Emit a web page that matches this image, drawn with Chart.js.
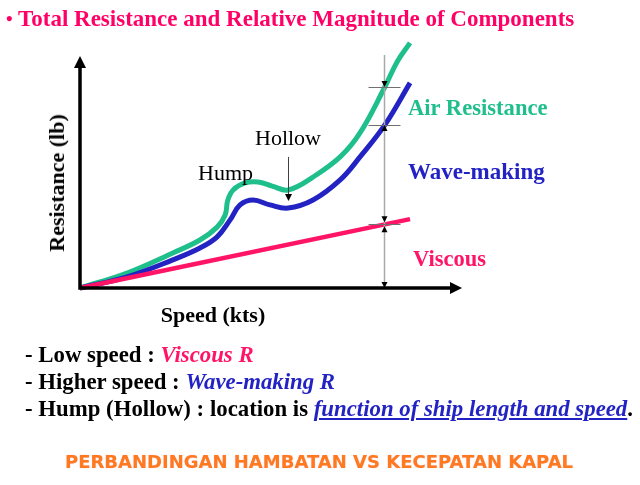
<!DOCTYPE html>
<html>
<head>
<meta charset="utf-8">
<script src="https://cdn.jsdelivr.net/npm/chart.js@4"></script>
<style>
  body { margin: 0; background: #fff; }
  #page { position: relative; width: 640px; height: 485px; overflow: hidden; font-family: "Liberation Serif", serif; }
  #wrap { position: absolute; left: 0; top: 0; width: 640px; height: 485px; }
  .t { position: absolute; white-space: nowrap; line-height: 1; }
  .b { font-weight: bold; }
</style>
</head>
<body>
<div id="page">
  <div id="wrap"><canvas id="resChart"></canvas></div>

  <div class="t b" style="left:6px; top:7px; font-size:23px; color:#ff0066;"><span style="font-size:19px; position:relative; top:-1px;">•</span> Total Resistance and Relative Magnitude of Components</div>

  <div class="t b" style="left:57px; top:183px; font-size:22px; transform:translate(-50%,-50%) rotate(-90deg);">Resistance (lb)</div>
  <div class="t b" style="left:213px; top:315px; font-size:22px; transform:translate(-50%,-50%);">Speed (kts)</div>

  <div class="t" style="left:198px; top:162px; font-size:22px;">Hump</div>
  <div class="t" style="left:255px; top:127px; font-size:22px;">Hollow</div>

  <div class="t b" style="left:408px; top:97px; font-size:22.6px; color:#1fbf8c;">Air Resistance</div>
  <div class="t b" style="left:408px; top:160px; font-size:23px; color:#2323c4;">Wave-making</div>
  <div class="t b" style="left:413px; top:248px; font-size:22.5px; color:#ff1466;">Viscous</div>

  <div class="t b" style="left:25px; top:344px; font-size:22.8px;">- Low speed : <i style="color:#ff1466;">Viscous R</i></div>
  <div class="t b" style="left:25px; top:371px; font-size:22.8px;">- Higher speed : <i style="color:#2323c4;">Wave-making R</i></div>
  <div class="t b" style="left:25px; top:398px; font-size:22.8px;">- Hump (Hollow) : location is <i style="color:#2323c4; text-decoration:underline;">function of ship length and speed</i>.</div>

  <div class="t" style="left:65px; top:453px; font-size:18px; font-family:'DejaVu Sans'; font-weight:bold; color:#ff7a1f; text-shadow:0 0 1px #ffb0c0;">PERBANDINGAN HAMBATAN VS KECEPATAN KAPAL</div>
</div>

<script>
// Total resistance (top green curve)
const totalSpeed = [0, 12.3, 24.3, 31.4, 35.9, 38.0, 38.7, 40.1, 43.2, 46.6, 50.3, 54.5, 61.0, 68.1, 73.3, 79.8, 83.0, 86.4];
const totalRes   = [0, 5.8, 13.6, 18.6, 23.6, 28.3, 34.1, 38.0, 40.7, 41.1, 39.5, 38.0, 43.0, 50.8, 60.1, 77.9, 87.6, 95.0];

// Viscous + wave-making (blue curve)
const waveSpeed = [0, 12.3, 24.3, 31.4, 35.9, 39.3, 41.9, 45.3, 49.7, 54.5, 61.0, 68.1, 73.3, 79.8, 86.4];
const waveRes   = [0, 4.3, 10.9, 15.5, 19.8, 26.4, 32.2, 34.1, 32.2, 31.0, 34.1, 41.9, 50.8, 63.2, 79.5];

// Viscous (red line)
const viscousSpeed = [0, 86.4];
const viscousRes   = [0, 26.7];

// measuring marker at the right
const markerSpeed = 79.7;
const markerTop = 90.3;
const markerLevels = [77.9, 63.2, 24.7];

// hollow pointer
const hollowSpeed = 54.4;
const hollowFrom = 50.8;
const hollowTo = 33.7;

const axisTopRes = 89.9;

function toPoints(xs, ys) {
    return xs.map((v, i) => ({ x: v, y: ys[i] }));
}

function head(ctx, x, y, dir, len, half) {
    ctx.beginPath();
    ctx.moveTo(x, y);
    if (dir === 'up') { ctx.lineTo(x - half, y + len); ctx.lineTo(x + half, y + len); }
    if (dir === 'down') { ctx.lineTo(x - half, y - len); ctx.lineTo(x + half, y - len); }
    if (dir === 'right') { ctx.lineTo(x - len, y - half); ctx.lineTo(x - len, y + half); }
    ctx.closePath();
    ctx.fill();
}

const sketchAxes = {
    id: 'sketchAxes',
    afterDatasetsDraw(chart) {
        const ctx = chart.ctx;
        const xs = chart.scales.x, ys = chart.scales.y;
        const px = v => xs.getPixelForValue(v);
        const py = v => ys.getPixelForValue(v);
        ctx.save();

        // marker line
        const mx = Math.round(px(markerSpeed)) + 0.5;
        ctx.strokeStyle = '#a8a8a8';
        ctx.lineWidth = 1.5;
        ctx.beginPath();
        ctx.moveTo(mx, py(markerTop));
        ctx.lineTo(mx, py(0));
        ctx.stroke();
        ctx.strokeStyle = '#707070';
        ctx.lineWidth = 1;
        markerLevels.forEach(v => {
            const yy = Math.round(py(v)) + 0.5;
            ctx.beginPath();
            ctx.moveTo(mx - 16, yy);
            ctx.lineTo(mx + 16, yy);
            ctx.stroke();
        });
        ctx.fillStyle = '#000';
        head(ctx, mx, py(markerLevels[0]), 'down', 6, 3);
        head(ctx, mx, py(markerLevels[1]), 'up', 6, 3);
        head(ctx, mx, py(markerLevels[2]) - 2, 'down', 6, 3);
        head(ctx, mx, py(markerLevels[2]) + 2, 'up', 6, 3);
        head(ctx, mx, py(0), 'down', 6, 3);

        // hollow pointer
        const hx = Math.round(px(hollowSpeed)) + 0.5;
        ctx.strokeStyle = '#404040';
        ctx.lineWidth = 1;
        ctx.beginPath();
        ctx.moveTo(hx, py(hollowFrom));
        ctx.lineTo(hx, py(hollowTo) - 5);
        ctx.stroke();
        head(ctx, hx, py(hollowTo), 'down', 7, 3.5);

        // axes
        const ox = px(0), oy = py(0);
        ctx.strokeStyle = '#000';
        ctx.lineWidth = 3.5;
        ctx.beginPath();
        ctx.moveTo(ox, py(axisTopRes) + 10);
        ctx.lineTo(ox, oy);
        ctx.lineTo(xs.right - 10, oy);
        ctx.stroke();
        head(ctx, ox, py(axisTopRes), 'up', 12, 6);
        head(ctx, xs.right, oy, 'right', 12, 6);
        ctx.restore();
    }
};

document.addEventListener('DOMContentLoaded', () => {
    const ctx = document.getElementById('resChart').getContext('2d');
    new Chart(ctx, {
        type: 'line',
        data: {
            datasets: [
                {
                    label: 'Viscous',
                    data: toPoints(viscousSpeed, viscousRes),
                    borderColor: '#ff1466',
                    borderWidth: 4.5,
                    pointRadius: 0,
                    tension: 0
                },
                {
                    label: 'Wave-making',
                    data: toPoints(waveSpeed, waveRes),
                    borderColor: '#2323c4',
                    borderWidth: 5,
                    pointRadius: 0,
                    tension: 0.4
                },
                {
                    label: 'Air Resistance',
                    data: toPoints(totalSpeed, totalRes),
                    borderColor: '#1fbf8c',
                    borderWidth: 5,
                    pointRadius: 0,
                    tension: 0.4
                }
            ]
        },
        options: {
            responsive: true,
            maintainAspectRatio: false,
            animation: false,
            clip: false,
            layout: { padding: { left: 80, right: 178, top: 30, bottom: 197 } },
            plugins: { legend: { display: false }, tooltip: { enabled: false } },
            scales: {
                x: { type: 'linear', min: 0, max: 100, display: false },
                y: { type: 'linear', min: 0, max: 100, display: false }
            }
        },
        plugins: [sketchAxes]
    });
});
</script>
</body>
</html>
